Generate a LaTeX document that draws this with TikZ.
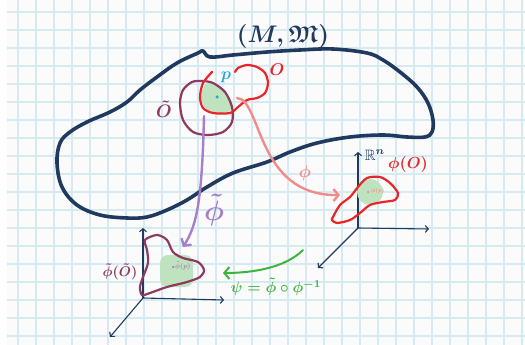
\documentclass[tikz,border=0pt]{standalone}
\usepackage{amssymb}
\usetikzlibrary{arrows.meta}
\definecolor{navy}{HTML}{1F3A5E}
\definecolor{gridblue}{HTML}{D6EAF2}
\definecolor{paper}{HTML}{FBFBFB}
\definecolor{setred}{HTML}{E8262A}
\definecolor{maroon}{HTML}{8E3A5E}
\definecolor{lavender}{HTML}{A67FC9}
\definecolor{salmon}{HTML}{F28B8B}
\definecolor{psigreen}{HTML}{3DB53D}
\definecolor{pcyan}{HTML}{2BA6DE}
\definecolor{patch}{HTML}{BFE3BE}

\begin{document}
\begin{tikzpicture}[
  x=1pt, y=-1pt,
  gridline/.style={draw=gridblue, line width=1.1pt},
  outline/.style={draw=navy, line width=3.6pt, line join=round},
  setline/.style={line width=2.2pt, line cap=round},
  maparrow/.style={line width=2.4pt, line cap=round, -{Straight Barb[length=5pt,width=12pt]}},
  axis/.style={draw=navy, line width=1.1pt, -{Straight Barb[length=3pt,width=7pt]}},
  lbl/.style={inner sep=0pt, font=\boldmath, scale=#1, transform shape},
  dot/.style={circle, inner sep=0pt, minimum size=3.5pt}
]
\useasboundingbox (0,0) rectangle (525,345);
\fill[paper] (7,0) rectangle (525,345);
\foreach \gx in {18,36,...,522} \draw[gridline] (\gx,0) -- (\gx,345);
\foreach \gy in {12,30,...,336} \draw[gridline] (7,\gy) -- (525,\gy);

\draw[outline] plot[smooth cycle, tension=0.6] coordinates {(210,57) (233,55) (267,52) (300,50) (333,49) (367,53) (383,60) (400,72) (417,87) (428,103) (433,120) (432,132) (425,137) (407,137) (383,135) (350,137) (317,143) (290,152) (267,162) (233,173) (207,187) (187,200) (167,210) (147,217) (127,218) (100,215) (77,205) (62,187) (57,163) (60,143) (70,132) (87,122) (110,112) (127,102) (140,90) (157,77) (177,63) (198,53) (203,51)};
\node[lbl=2.4, navy] (mlabel) at (283,37) {$(M,\mathfrak{M})$};

\fill[patch] plot[smooth cycle] coordinates {(207,83) (215,85) (225,92) (232,103) (230,111) (218,113) (205,108) (201,95)};
\draw[setline, maroon] plot[smooth cycle] coordinates {(192,82) (183,90) (180,103) (183,120) (193,132) (208,135) (223,132) (232,122) (232,107) (225,92) (213,83) (202,81)};
\draw[setline, setred] plot[smooth] coordinates {(212,72) (203,83) (200,97) (203,108) (213,113) (230,113) (238,107) (247,100) (257,98) (265,93) (268,83) (265,73) (257,67) (247,65) (238,68) (235,72)};
\node[dot, fill=pcyan] (pdot) at (217,97) {};
\node[lbl=1.7, pcyan] (plabel) at (226,77) {$p$};
\node[lbl=1.7, setred] (olabel) at (277,70) {$O$};
\node[lbl=1.8, maroon] (otlabel) at (164,109) {$\tilde{O}$};

\coordinate (rorigin) at (358,228);
\coordinate (rup) at (358,152);
\coordinate (rright) at (429,229);
\coordinate (rdiag) at (318,268);
\draw[axis] (rorigin) -- (rup);
\draw[axis] (rorigin) -- (rright);
\draw[axis] (rorigin) -- (rdiag);
\node[lbl=1.5, navy] (rnlabel) at (375,155) {$\mathbb{R}^n$};
\node[lbl=1.6, setred] (phiolabel) at (408,164) {$\phi(O)$};
\fill[patch] (370,192) circle (13);
\draw[setline, setred] plot[smooth cycle] coordinates {(333,217) (340,205) (350,197) (358,187) (367,178) (380,177) (390,183) (398,193) (395,200) (383,202) (370,205) (360,213) (350,220) (337,223) (332,220)};
\node[dot, fill=salmon, minimum size=2.5pt] (phipdot) at (368,192) {};
\node[lbl=0.6, salmon, anchor=west] (phiplabel) at (371,191) {$\phi(p)$};

\coordinate (lorigin) at (143,298);
\coordinate (lup) at (143,228);
\coordinate (lright) at (224,300);
\coordinate (ldiag) at (110,337);
\draw[axis] (lorigin) -- (lup);
\draw[axis] (lorigin) -- (lright);
\draw[axis] (lorigin) -- (ldiag);
\fill[patch, rounded corners=8pt] (160,255) rectangle (193,287);
\draw[setline, maroon] plot[smooth cycle] coordinates {(145,240) (157,235) (167,240) (173,252) (183,258) (198,262) (204,270) (200,277) (187,282) (167,287) (150,293) (142,295) (140,287) (143,277) (148,263) (147,250)};
\node[dot, fill=lavender, minimum size=2.5pt] (phitpdot) at (173,267) {};
\node[lbl=0.7, lavender, anchor=west] (phitplabel) at (175,266) {$\tilde{\phi}(p)$};
\node[lbl=1.4, maroon] (phitolabel) at (120,272) {$\tilde{\phi}(\tilde{O})$};

\coordinate (phifrom) at (237,98);
\coordinate (phito) at (340,195);
\draw[maparrow, salmon] (phifrom) .. controls (262,100) and (256,196) .. (phito);
\node[lbl=1.7, salmon] (philabel) at (305,173) {$\phi$};

\coordinate (phitfrom) at (204,116);
\coordinate (phitto) at (183,247);
\draw[maparrow, lavender] (phitfrom) .. controls (202,200) and (197,225) .. (phitto);
\node[lbl=2.8, lavender] (phitlabel) at (214,210) {$\tilde{\phi}$};

\coordinate (psifrom) at (303,250);
\coordinate (psito) at (223,273);
\draw[maparrow, psigreen, line width=2pt] (psifrom) .. controls (285,268) and (252,273) .. (psito);
\node[lbl=1.5, psigreen] (psilabel) at (276,287) {$\psi=\tilde{\phi}\circ\phi^{-1}$};
\end{tikzpicture}
\end{document}
